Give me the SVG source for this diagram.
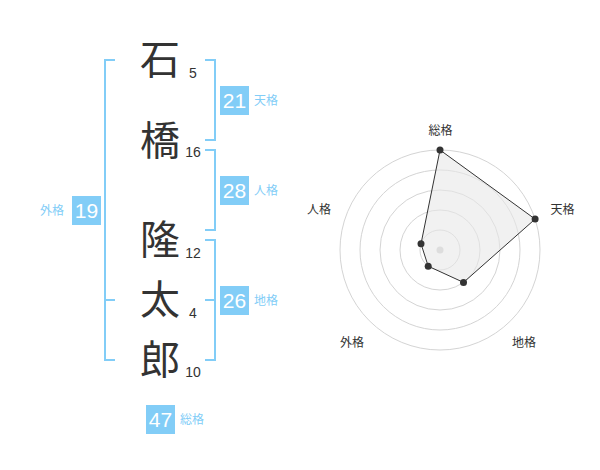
<svg xmlns="http://www.w3.org/2000/svg" width="600" height="470" viewBox="0 0 600 470">
<style>
.ch{font-family:"Noto Sans CJK JP","Noto Sans CJK SC",sans-serif;font-size:40px;fill:#333;text-anchor:middle}
.num{font-family:"Liberation Sans",Arial,sans-serif;font-size:14px;fill:#333;text-anchor:middle}
.br{fill:none;stroke:#82cdf7;stroke-width:2}
.badge{fill:#82cdf7}
.bt{font-family:"Liberation Sans",Arial,sans-serif;font-size:21px;fill:#fff;text-anchor:middle}
.lb{font-family:"Noto Sans CJK JP","Noto Sans CJK SC",sans-serif;font-size:12px;fill:#82cdf7}
.rl{font-family:"Noto Sans CJK JP","Noto Sans CJK SC",sans-serif;font-size:12px;fill:#333;text-anchor:middle}
.ring{fill:none;stroke:#d4d4d4;stroke-width:1}
.dot{fill:#333}
</style>
<rect width="600" height="470" fill="#fff"/>
<g id="connectors">
<path class="br" d="M115,60 H105 V360 H115 M105,300 H115"/>
<path class="br" d="M205,60 H215 V140 H205"/>
<path class="br" d="M205,150 H215 V230 H205"/>
<path class="br" d="M205,240 H215 V360 H205 M215,300 H205"/>
</g>
<g id="chars">
<g id="c1"><text class="ch" x="160" y="74">石</text><text class="num" x="193" y="78">5</text></g>
<g id="c2"><text class="ch" x="160" y="155">橋</text><text class="num" x="193" y="157">16</text></g>
<g id="c3"><text class="ch" x="160" y="254">隆</text><text class="num" x="193" y="258">12</text></g>
<g id="c4"><text class="ch" x="160" y="314">太</text><text class="num" x="193" y="318">4</text></g>
<g id="c5"><text class="ch" x="160" y="374">郎</text><text class="num" x="193" y="377">10</text></g>
</g>
<g id="tenkaku"><rect class="badge" x="220" y="86" width="29" height="29"/><text class="bt" x="234.5" y="108">21</text><text class="lb" x="254" y="105">天格</text></g>
<g id="jinkaku"><rect class="badge" x="220" y="176" width="29" height="29"/><text class="bt" x="234.5" y="198">28</text><text class="lb" x="254" y="195">人格</text></g>
<g id="chikaku"><rect class="badge" x="220" y="286" width="29" height="29"/><text class="bt" x="234.5" y="308">26</text><text class="lb" x="254" y="305">地格</text></g>
<g id="gaikaku"><rect class="badge" x="72" y="196" width="29" height="29"/><text class="bt" x="86.5" y="218">19</text><text class="lb" x="40" y="215">外格</text></g>
<g id="soukaku"><rect class="badge" x="146" y="405" width="29" height="29"/><text class="bt" x="160.5" y="427">47</text><text class="lb" x="180" y="424">総格</text></g>
<g id="radar">
<circle class="ring" cx="440" cy="250" r="20"/>
<circle class="ring" cx="440" cy="250" r="40"/>
<circle class="ring" cx="440" cy="250" r="60"/>
<circle class="ring" cx="440" cy="250" r="80"/>
<circle class="ring" cx="440" cy="250" r="100"/>
<circle cx="440" cy="250" r="3.5" fill="#ccc"/>
<polygon points="440,150 535.1,219.1 463.5,282.4 428.2,266.2 421,243.8" fill="#e8e8e8" fill-opacity="0.6" stroke="#333" stroke-width="1"/>
<circle class="dot" cx="440" cy="150" r="3.5"/>
<circle class="dot" cx="535.1" cy="219.1" r="3.5"/>
<circle class="dot" cx="463.5" cy="282.4" r="3.5"/>
<circle class="dot" cx="428.2" cy="266.2" r="3.5"/>
<circle class="dot" cx="421" cy="243.8" r="3.5"/>
<text class="rl" x="440.5" y="134.5">総格</text>
<text class="rl" x="562.5" y="213.5">天格</text>
<text class="rl" x="524" y="346.5">地格</text>
<text class="rl" x="352" y="346.5">外格</text>
<text class="rl" x="319" y="213.5">人格</text>
</g>
</svg>
